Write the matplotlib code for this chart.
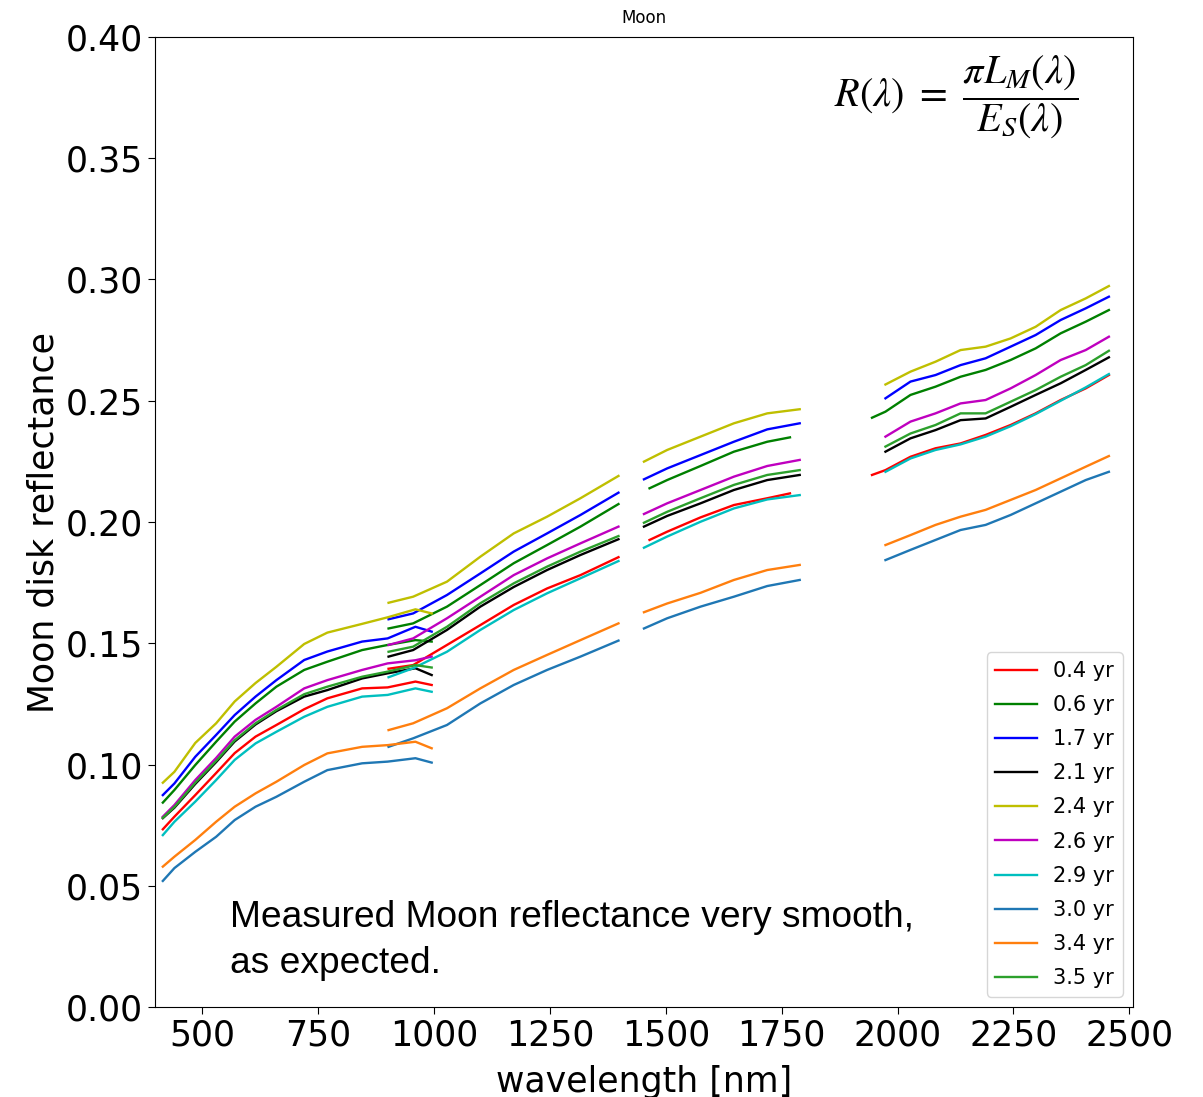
"""Moon disk reflectance per instrument age, four spectral segments."""
import matplotlib
matplotlib.use("Agg")
import matplotlib.pyplot as plt
import numpy as np
from matplotlib.ticker import MultipleLocator

LABELS = ["0.4 yr", "0.6 yr", "1.7 yr", "2.1 yr", "2.4 yr",
          "2.6 yr", "2.9 yr", "3.0 yr", "3.4 yr", "3.5 yr"]
COLORS = ["r", "g", "b", "k", "y", "m", "c", "tab:blue", "tab:orange", "tab:green"]

# VNIR segment
WL_VNIR = [415, 440, 485, 530, 570, 615, 660, 720, 770, 845, 900, 960, 995]
VNIR = [
    [0.0733, 0.0785, 0.0874, 0.0965, 0.1047, 0.1115, 0.1163, 0.1228, 0.1273, 0.1314, 0.1318, 0.1342, 0.1328],
    [0.0843, 0.0895, 0.0998, 0.1094, 0.1177, 0.1252, 0.1321, 0.1390, 0.1424, 0.1472, 0.1493, 0.1513, 0.1507],
    [0.0874, 0.0922, 0.1032, 0.1122, 0.1204, 0.1280, 0.1348, 0.1431, 0.1466, 0.1507, 0.1520, 0.1568, 0.1548],
    [0.0779, 0.0822, 0.0920, 0.1010, 0.1095, 0.1165, 0.1220, 0.1280, 0.1307, 0.1355, 0.1376, 0.1397, 0.1369],
    [0.0925, 0.0970, 0.1089, 0.1170, 0.1260, 0.1336, 0.1403, 0.1497, 0.1544, 0.1580, 0.1607, 0.1640, 0.1623],
    [0.0785, 0.0833, 0.0936, 0.1027, 0.1115, 0.1184, 0.1238, 0.1314, 0.1348, 0.1390, 0.1417, 0.1430, 0.1445],
    [0.0709, 0.0764, 0.0847, 0.0936, 0.1019, 0.1087, 0.1135, 0.1197, 0.1238, 0.1280, 0.1287, 0.1314, 0.1300],
    [0.0520, 0.0573, 0.0640, 0.0702, 0.0771, 0.0826, 0.0867, 0.0929, 0.0977, 0.1005, 0.1012, 0.1026, 0.1008],
    [0.0579, 0.0620, 0.0689, 0.0764, 0.0826, 0.0881, 0.0929, 0.0998, 0.1046, 0.1073, 0.1080, 0.1094, 0.1067],
    [0.0780, 0.0825, 0.0925, 0.1015, 0.1100, 0.1170, 0.1225, 0.1290, 0.1321, 0.1362, 0.1383, 0.1410, 0.1400],
]

# SWIR1 segment
WL_SWIR1 = [902, 955, 1028, 1100, 1172, 1244, 1316, 1398]
SWIR1 = [
    [0.1395, 0.1410, 0.1493, 0.1575, 0.1658, 0.1726, 0.1781, 0.1855],
    [0.1561, 0.1582, 0.1651, 0.1740, 0.1830, 0.1905, 0.1981, 0.2074],
    [0.1599, 0.1623, 0.1699, 0.1788, 0.1878, 0.1953, 0.2029, 0.2121],
    [0.1445, 0.1472, 0.1555, 0.1651, 0.1732, 0.1802, 0.1864, 0.1929],
    [0.1667, 0.1692, 0.1754, 0.1857, 0.1953, 0.2022, 0.2098, 0.2190],
    [0.1493, 0.1520, 0.1603, 0.1692, 0.1781, 0.1850, 0.1912, 0.1981],
    [0.1360, 0.1397, 0.1465, 0.1555, 0.1637, 0.1706, 0.1768, 0.1839],
    [0.1073, 0.1108, 0.1163, 0.1252, 0.1328, 0.1390, 0.1445, 0.1511],
    [0.1142, 0.1170, 0.1232, 0.1314, 0.1390, 0.1452, 0.1513, 0.1582],
    [0.1465, 0.1486, 0.1568, 0.1665, 0.1747, 0.1816, 0.1878, 0.1942],
]

# SWIR2 segment (0.4 and 0.6 yr start later and stop earlier)
WL_SWIR2_MID = [1503, 1575, 1647, 1719]
SWIR2_START = [1465, 1465, 1453, 1453, 1453, 1453, 1453, 1453, 1453, 1453]
SWIR2_END = [1768, 1768, 1789, 1789, 1789, 1789, 1789, 1789, 1789, 1789]
SWIR2 = [
    [0.1926, 0.1960, 0.2019, 0.2070, 0.2098, 0.2118],
    [0.2139, 0.2173, 0.2231, 0.2290, 0.2331, 0.2349],
    [0.2176, 0.2221, 0.2276, 0.2331, 0.2382, 0.2407],
    [0.1981, 0.2025, 0.2077, 0.2132, 0.2173, 0.2194],
    [0.2249, 0.2297, 0.2352, 0.2407, 0.2448, 0.2465],
    [0.2033, 0.2077, 0.2132, 0.2187, 0.2231, 0.2256],
    [0.1894, 0.1940, 0.2001, 0.2056, 0.2093, 0.2111],
    [0.1561, 0.1603, 0.1651, 0.1692, 0.1736, 0.1761],
    [0.1628, 0.1664, 0.1708, 0.1761, 0.1802, 0.1823],
    [0.1997, 0.2042, 0.2098, 0.2153, 0.2194, 0.2214],
]

# SWIR3 segment (0.4 and 0.6 yr have one extra point at 1945 nm)
WL_SWIR3 = [1974, 2028, 2082, 2136, 2190, 2244, 2298, 2352, 2406, 2456]
SWIR3_EARLY = [0.2194, 0.2430, None, None, None, None, None, None, None, None]
SWIR3 = [
    [0.2214, 0.2269, 0.2304, 0.2324, 0.2359, 0.2400, 0.2448, 0.2503, 0.2551, 0.2606],
    [0.2455, 0.2524, 0.2558, 0.2599, 0.2627, 0.2668, 0.2716, 0.2778, 0.2826, 0.2874],
    [0.2510, 0.2579, 0.2606, 0.2647, 0.2675, 0.2723, 0.2771, 0.2833, 0.2881, 0.2929],
    [0.2290, 0.2345, 0.2379, 0.2420, 0.2427, 0.2475, 0.2524, 0.2572, 0.2627, 0.2679],
    [0.2567, 0.2620, 0.2661, 0.2709, 0.2723, 0.2757, 0.2805, 0.2874, 0.2922, 0.2973],
    [0.2352, 0.2414, 0.2448, 0.2489, 0.2503, 0.2551, 0.2606, 0.2668, 0.2709, 0.2764],
    [0.2207, 0.2262, 0.2297, 0.2320, 0.2352, 0.2395, 0.2445, 0.2500, 0.2555, 0.2610],
    [0.1843, 0.1885, 0.1926, 0.1967, 0.1988, 0.2029, 0.2077, 0.2125, 0.2173, 0.2207],
    [0.1905, 0.1946, 0.1988, 0.2022, 0.2050, 0.2091, 0.2132, 0.2180, 0.2228, 0.2272],
    [0.2311, 0.2365, 0.2400, 0.2448, 0.2448, 0.2496, 0.2544, 0.2599, 0.2647, 0.2706],
]

fig = plt.figure(figsize=(12.03, 10.97), dpi=100)
ax = fig.add_axes([0.1288, 0.0820, 0.8130, 0.8843])

for i, (lab, col) in enumerate(zip(LABELS, COLORS)):
    ax.plot(WL_VNIR, VNIR[i], color=col, lw=1.7, label=lab)
    ax.plot(WL_SWIR1, SWIR1[i], color=col, lw=1.7)
    wl2 = [SWIR2_START[i]] + WL_SWIR2_MID + [SWIR2_END[i]]
    ax.plot(wl2, SWIR2[i], color=col, lw=1.7)
    wl3, r3 = list(WL_SWIR3), list(SWIR3[i])
    if SWIR3_EARLY[i] is not None:
        wl3, r3 = [1945] + wl3, [SWIR3_EARLY[i]] + r3
    ax.plot(wl3, r3, color=col, lw=1.7)

ax.set_xlim(398, 2508)
ax.set_ylim(0, 0.40)
ax.xaxis.set_major_locator(MultipleLocator(250))
ax.yaxis.set_major_locator(MultipleLocator(0.05))
ax.yaxis.set_major_formatter(matplotlib.ticker.FormatStrFormatter("%.2f"))
ax.tick_params(labelsize=25, length=5)
ax.set_xlabel("wavelength [nm]", fontsize=25, labelpad=9)
ax.set_ylabel("Moon disk reflectance", fontsize=25)
ax.set_title("Moon", fontsize=12, pad=10)

ax.legend(loc="lower right", fontsize=15, handlelength=2.0, labelspacing=0.68)

fig.text(0.795, 0.9116, r"$R(\lambda)\ =\ \dfrac{\pi L_M(\lambda)}{E_S(\lambda)}$",
         fontsize=29, ha="center", va="center", math_fontfamily="stix")
fig.text(230 / 1203, 1 - 981 / 1097, "Measured Moon reflectance very smooth,\nas expected.",
         fontsize=26.7, family="Liberation Sans", ha="left", va="bottom", linespacing=1.4)

fig.savefig("out.png", dpi=100, facecolor="white")
